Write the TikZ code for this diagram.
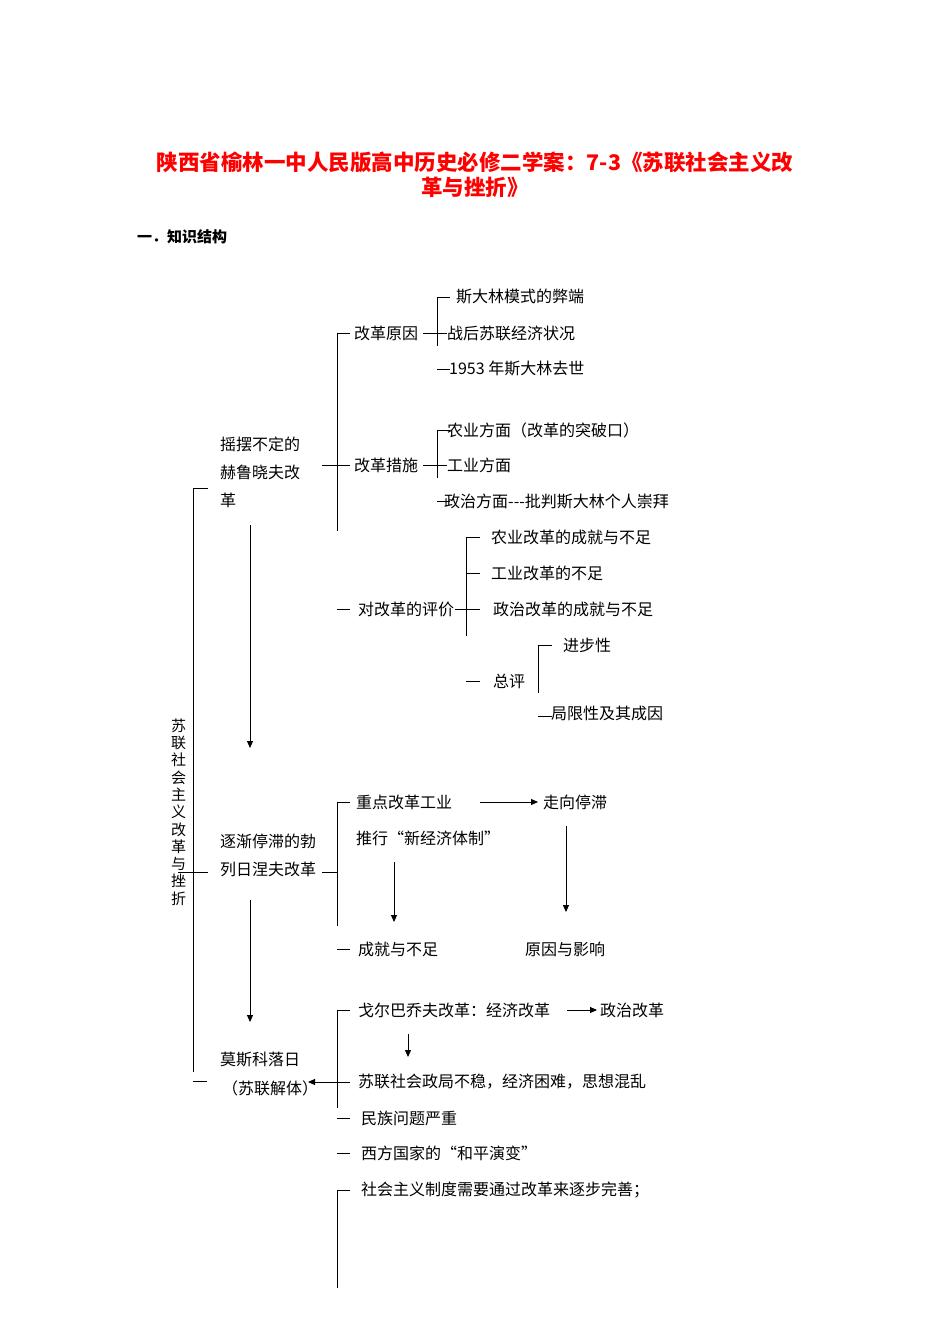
\documentclass[tikz,border=0pt]{standalone}
\usepackage{fontspec}
\setmainfont{Noto Sans CJK SC}
\usetikzlibrary{arrows.meta}
\begin{document}
\begin{tikzpicture}[x=1pt,y=-1pt,
  t/.style={anchor=west,inner sep=0pt,font=\fontsize{16}{18}\selectfont},
  ln/.style={line width=0.9pt},
  ar/.style={line width=0.9pt,-{Triangle[length=7pt,width=6pt]}}]
\useasboundingbox[fill=white] (0,0) rectangle (950,1344);
\node[red,font=\fontsize{21.5}{24}\selectfont\bfseries] (ti1) at (475,162) {陕西省榆林一中人民版高中历史必修二学案：7-3《苏联社会主义改};
\node[red,font=\fontsize{21.5}{24}\selectfont\bfseries] (ti2) at (475,187) {革与挫折》};
\node[t,font=\fontsize{15}{18}\selectfont\bfseries] (h1) at (137,237) {一．知识结构};
% main bracket
\draw[ln] (208,488) -- (193,488) -- (193,1072);
\draw[ln] (193,1081) -- (207,1081);
\draw[ln] (178,872) -- (208,872);
\node[t,align=center,font=\fontsize{15}{17.3}\selectfont] (main) at (171,812) {苏\\联\\社\\会\\主\\义\\改\\革\\与\\挫\\折};
% Khrushchev
\node[t] (k1) at (220,444) {摇摆不定的};
\node[t] (k2) at (220,472) {赫鲁晓夫改};
\node[t] (k3) at (220,500) {革};
\draw[ln] (350,333) -- (337,333) -- (337,531);
\draw[ln] (322,465) -- (350,465);
\node[t] (yy) at (354,333) {改革原因};
\draw[ln] (423,333) -- (447,333);
\draw[ln] (450,297) -- (437,297) -- (437,346);
\node[t] (y1) at (456,297) {斯大林模式的弊端};
\node[t] (y2) at (447,333) {战后苏联经济状况};
\draw[ln] (437,369) -- (450,369);
\node[t] (y3) at (449,369) {1953 年斯大林去世};
\node[t] (cs) at (354,465) {改革措施};
\draw[ln] (423,465) -- (447,465);
\draw[ln] (450,430) -- (437,430) -- (437,478);
\node[t] (c1) at (447,430) {农业方面（改革的突破口）};
\node[t] (c2) at (447,465) {工业方面};
\draw[ln] (437,501) -- (450,501);
\node[t] (c3) at (444,501) {政治方面-{}-{}-批判斯大林个人崇拜};
\draw[ln] (337,609) -- (350,609);
\node[t] (pj) at (358,609) {对改革的评价};
\draw[ln] (480,537) -- (466,537) -- (466,636);
\draw[ln] (466,573) -- (480,573);
\draw[ln] (455,609) -- (480,609);
\node[t] (p1) at (491,537) {农业改革的成就与不足};
\node[t] (p2) at (491,573) {工业改革的不足};
\node[t] (p3) at (493,609) {政治改革的成就与不足};
\draw[ln] (466,681) -- (480,681);
\node[t] (zp) at (493,681) {总评};
\draw[ln] (552,645) -- (538,645) -- (538,693);
\node[t] (z1) at (563,645) {进步性};
\draw[ln] (538,716) -- (552,716);
\node[t] (z2) at (551,713) {局限性及其成因};
\draw[ar] (250,525) -- (250,748);
% Brezhnev
\node[t] (b1) at (220,841) {逐渐停滞的勃};
\node[t] (b2) at (220,869) {列日涅夫改革};
\draw[ln] (322,872) -- (337,872);
\draw[ln] (350,802) -- (337,802) -- (337,926);
\node[t] (bz) at (356,802) {重点改革工业};
\node[t] (bt) at (543,802) {走向停滞};
\draw[ar] (480,802) -- (538,802);
\node[t] (bx) at (356,838) {推行“新经济体制”};
\draw[ar] (394,862) -- (394,922);
\draw[ar] (566,826) -- (566,912);
\draw[ln] (337,949) -- (350,949);
\node[t] (bc) at (358,949) {成就与不足};
\node[t] (by) at (525,949) {原因与影响};
\draw[ar] (250,900) -- (250,1022);
% Gorbachev
\node[t] (m1) at (220,1060) {莫斯科落日};
\node[t] (m2) at (222,1088) {（苏联解体）};
\draw[ln] (350,1010) -- (337,1010) -- (337,1108);
\node[t] (g1) at (358,1010) {戈尔巴乔夫改革：经济改革};
\draw[ar] (567,1010) -- (597,1010);
\node[t] (g2) at (600,1010) {政治改革};
\draw[ar] (408,1034) -- (408,1057);
\node[t] (g3) at (358,1082) {苏联社会政局不稳，经济困难，思想混乱};
\draw[ar] (350,1082) -- (308,1082);
\draw[ln] (337,1118) -- (350,1118);
\node[t] (g4) at (361,1118) {民族问题严重};
\draw[ln] (337,1153) -- (350,1153);
\node[t] (g5) at (361,1153) {西方国家的“和平演变”};
\draw[ln] (350,1190) -- (337,1190) -- (337,1288);
\node[t] (g6) at (361,1190) {社会主义制度需要通过改革来逐步完善；};
\end{tikzpicture}
\end{document}
